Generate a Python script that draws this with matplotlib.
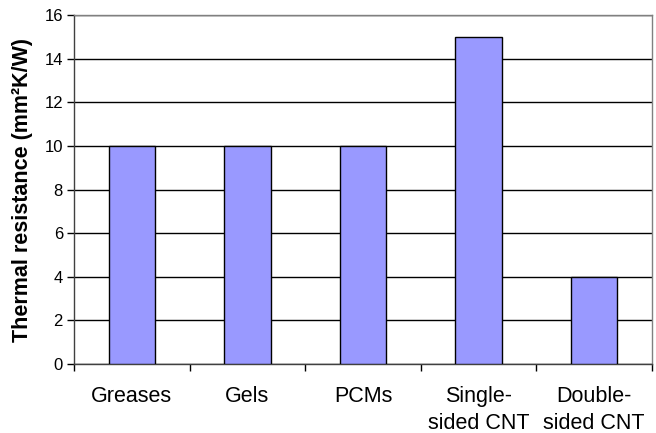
import matplotlib
matplotlib.use("Agg")
import matplotlib.pyplot as plt
import numpy as np

categories = ["Greases", "Gels", "PCMs", "Single-\nsided CNT", "Double-\nsided CNT"]
values = [10, 10, 10, 15, 4]
yticks = [0, 2, 4, 6, 8, 10, 12, 14, 16]

plt.rcParams['font.family'] = ['Liberation Sans', 'DejaVu Sans']

fig = plt.figure(figsize=(6.56, 4.33), dpi=100)
ax = fig.add_axes([74/656, 1-364/433, (652-74)/656, (364-15)/433])

x = np.arange(len(categories))
ax.set_axisbelow(True)
ax.yaxis.grid(True, color='black', linewidth=1.0)
ax.bar(x, values, width=0.4, color='#9999FF', edgecolor='black', linewidth=1.0, zorder=3)

ax.set_xlim(-0.5, len(categories) - 0.5)
ax.set_ylim(0, 16)
ax.set_yticks(yticks)
ax.tick_params(axis='y', direction='out', length=5, width=1, pad=3, labelsize=12)

ax.set_xticks(np.arange(len(categories) + 1) - 0.5)
ax.set_xticklabels([])
ax.tick_params(axis='x', which='major', direction='out', length=5, width=1)
ax.set_xticks(x, minor=True)
ax.set_xticklabels(categories, minor=True, fontsize=15.5, linespacing=1.35)
ax.tick_params(axis='x', which='minor', length=0, pad=16)

for s in ['left', 'bottom']:
    ax.spines[s].set_color('#404040')
    ax.spines[s].set_linewidth(1.0)
for s in ['top', 'right']:
    ax.spines[s].set_color('#808080')
    ax.spines[s].set_linewidth(1.0)

ax.set_ylabel("Thermal resistance (mm²K/W)", fontsize=15.5, fontweight='bold', labelpad=8)

fig.savefig("out.png", dpi=100)
